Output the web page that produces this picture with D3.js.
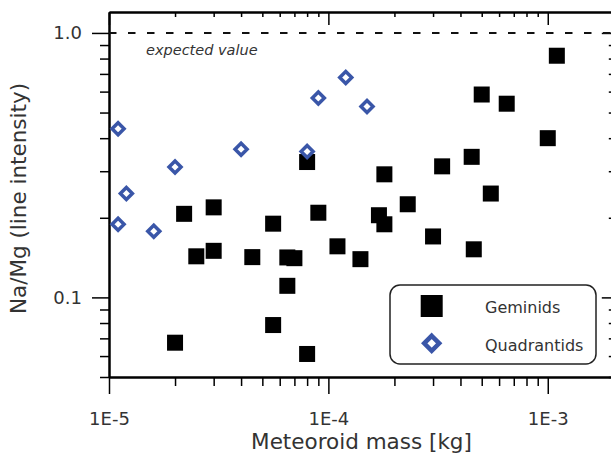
<!DOCTYPE html>
<html>
<head>
<meta charset="utf-8">
<script src="https://cdn.jsdelivr.net/npm/d3@7"></script>
<style>
    body { margin: 0; background: #fff; }
    svg { display: block; font-family: "DejaVu Sans", sans-serif; }
    .tick text { fill: #333; }
</style>
</head>
<body>
<svg id="chart" width="611" height="453"></svg>
<script>
// Na/Mg line intensity ratio vs. meteoroid mass, two showers.

var geminidsMass = [1.1e-3, 5.0e-4, 6.5e-4, 1.0e-3, 4.5e-4, 3.3e-4, 5.5e-4, 8.0e-5, 1.8e-4, 2.3e-4,
                    2.2e-5, 3.0e-5, 2.5e-5, 3.0e-5, 4.5e-5, 2.0e-5, 5.6e-5, 9.0e-5, 1.7e-4, 1.8e-4,
                    3.0e-4, 1.1e-4, 1.4e-4, 6.5e-5, 7.0e-5, 6.5e-5, 5.6e-5, 8.0e-5, 4.6e-4];
var geminidsRatio = [0.82, 0.585, 0.54, 0.40, 0.34, 0.313, 0.247, 0.325, 0.292, 0.225,
                     0.207, 0.219, 0.143, 0.150, 0.142, 0.0674, 0.190, 0.209, 0.2045, 0.189,
                     0.170, 0.156, 0.1395, 0.1416, 0.1407, 0.1106, 0.0786, 0.0611, 0.152];

var quadrantidsMass = [1.1e-5, 2.0e-5, 4.0e-5, 1.2e-5, 1.1e-5, 1.6e-5, 9.0e-5, 1.2e-4, 1.5e-4, 8.0e-5];
var quadrantidsRatio = [0.434, 0.311, 0.363, 0.247, 0.189, 0.178, 0.568, 0.678, 0.527, 0.356];

var xMajor = [1e-5, 1e-4, 1e-3];
var xMajorLabels = ["1E-5", "1E-4", "1E-3"];
var yMajor = [0.1, 1.0];
var yMajorLabels = ["0.1", "1.0"];
var expectedValue = 1.0;

var svg = d3.select("#chart");

// NB: "top" is taken by window.top, so keep plot edges in their own object.
var plot = { left: 109, right: 613.8, top: 12, bottom: 377 };

var x = d3.scaleLog().domain([1e-5, 2e-3]).range([plot.left, plot.right]);
var y = d3.scaleLog().domain([0.05, 1.2]).range([plot.bottom, plot.top]);

// Minor ticks are whatever the log scale gives, minus the decades.
var xMinor = x.ticks().filter(function (v) {
    return !xMajor.some(function (m) { return Math.abs(m - v) / m < 1e-6; });
});
var yMinor = y.ticks().filter(function (v) {
    return !yMajor.some(function (m) { return Math.abs(m - v) / m < 1e-6; });
});

function styleAxis(g, width) {
    g.select(".domain").attr("stroke", "#000").attr("stroke-width", 2);
    g.selectAll(".tick line").attr("stroke", "#000").attr("stroke-width", width);
}

// Bottom: outward ticks with labels.
svg.append("g")
    .attr("transform", "translate(0," + plot.bottom + ")")
    .call(d3.axisBottom(x).tickValues(xMinor).tickSize(9).tickSizeOuter(0).tickFormat(""))
    .call(styleAxis, 1.5);
svg.append("g")
    .attr("transform", "translate(0," + plot.bottom + ")")
    .call(d3.axisBottom(x).tickValues(xMajor).tickSize(17).tickSizeOuter(0).tickPadding(18)
        .tickFormat(function (d, i) { return xMajorLabels[i]; }))
    .call(styleAxis, 1.5)
    .selectAll("text").attr("font-size", 18).attr("font-family", "DejaVu Sans");

// Top: inward ticks, no labels.
svg.append("g")
    .attr("transform", "translate(0," + plot.top + ")")
    .call(d3.axisTop(x).tickValues(xMinor).tickSize(-5).tickSizeOuter(0).tickFormat(""))
    .call(styleAxis, 1.5);
svg.append("g")
    .attr("transform", "translate(0," + plot.top + ")")
    .call(d3.axisTop(x).tickValues(xMajor).tickSize(-13).tickSizeOuter(0).tickFormat(""))
    .call(styleAxis, 1.5);

// Left: outward ticks with labels.
svg.append("g")
    .attr("transform", "translate(" + plot.left + ",0)")
    .call(d3.axisLeft(y).tickValues(yMinor).tickSize(9).tickSizeOuter(0).tickFormat(""))
    .call(styleAxis, 1.5);
svg.append("g")
    .attr("transform", "translate(" + plot.left + ",0)")
    .call(d3.axisLeft(y).tickValues(yMajor).tickSize(17).tickSizeOuter(0).tickPadding(10)
        .tickFormat(function (d, i) { return yMajorLabels[i]; }))
    .call(styleAxis, 1.5)
    .selectAll("text").attr("font-size", 18).attr("font-family", "DejaVu Sans");

// Right: inward ticks (the axis line itself sits just past the window).
svg.append("g")
    .attr("transform", "translate(" + plot.right + ",0)")
    .call(d3.axisRight(y).tickValues(yMinor).tickSize(-5).tickSizeOuter(0).tickFormat(""))
    .call(styleAxis, 1.5);
svg.append("g")
    .attr("transform", "translate(" + plot.right + ",0)")
    .call(d3.axisRight(y).tickValues(yMajor).tickSize(-12).tickSizeOuter(0).tickFormat(""))
    .call(styleAxis, 1.5);

// Expected value line.
svg.append("line")
    .attr("x1", plot.left).attr("x2", plot.right)
    .attr("y1", y(expectedValue)).attr("y2", y(expectedValue))
    .attr("stroke", "#111")
    .attr("stroke-width", 2)
    .attr("stroke-dasharray", "7.5,11.5");
svg.append("text")
    .attr("x", 146)
    .attr("y", 55)
    .attr("font-size", 14.5)
    .attr("font-style", "italic")
    .attr("fill", "#333")
    .text("expected value");

// Geminids: filled squares (drawn first, diamonds sit on top).
var sq = 16;
var geminids = geminidsMass.map(function (m, i) { return { m: m, r: geminidsRatio[i] }; });
svg.append("g").selectAll("rect")
    .data(geminids)
    .enter().append("rect")
    .attr("x", function (d) { return x(d.m) - sq / 2; })
    .attr("y", function (d) { return y(d.r) - sq / 2; })
    .attr("width", sq)
    .attr("height", sq)
    .attr("fill", "#000");

// Quadrantids: open blue diamonds.
var blue = "#3a56a8";
function diamond(cx, cy, d) {
    return "M" + cx + "," + (cy - d) + "L" + (cx + d) + "," + cy +
           "L" + cx + "," + (cy + d) + "L" + (cx - d) + "," + cy + "Z";
}
var quadrantids = quadrantidsMass.map(function (m, i) { return { m: m, r: quadrantidsRatio[i] }; });
svg.append("g").selectAll("path")
    .data(quadrantids)
    .enter().append("path")
    .attr("d", function (d) { return diamond(x(d.m), y(d.r), 6); })
    .attr("fill", "#fff")
    .attr("stroke", blue)
    .attr("stroke-width", 3.5);

// Legend box.
var legend = svg.append("g");
legend.append("rect")
    .attr("x", 390).attr("y", 285)
    .attr("width", 206).attr("height", 79)
    .attr("rx", 10).attr("ry", 10)
    .attr("fill", "#fff")
    .attr("stroke", "#222")
    .attr("stroke-width", 1.5);
legend.append("rect")
    .attr("x", 431.7 - 11).attr("y", 306 - 11)
    .attr("width", 22).attr("height", 22)
    .attr("fill", "#000");
legend.append("path")
    .attr("d", diamond(431.7, 343.3, 7.5))
    .attr("fill", "#fff")
    .attr("stroke", blue)
    .attr("stroke-width", 4.5);
legend.append("text")
    .attr("x", 485).attr("y", 313)
    .attr("font-size", 16).attr("fill", "#333")
    .text("Geminids");
legend.append("text")
    .attr("x", 485).attr("y", 350.5)
    .attr("font-size", 16).attr("fill", "#333")
    .text("Quadrantids");

// Axis titles.
svg.append("text")
    .attr("x", 361.5).attr("y", 449)
    .attr("text-anchor", "middle")
    .attr("font-size", 21.5).attr("fill", "#333")
    .text("Meteoroid mass [kg]");
svg.append("text")
    .attr("transform", "translate(26,198.5) rotate(-90)")
    .attr("text-anchor", "middle")
    .attr("font-size", 21.5).attr("fill", "#333")
    .text("Na/Mg (line intensity)");
</script>
</body>
</html>
